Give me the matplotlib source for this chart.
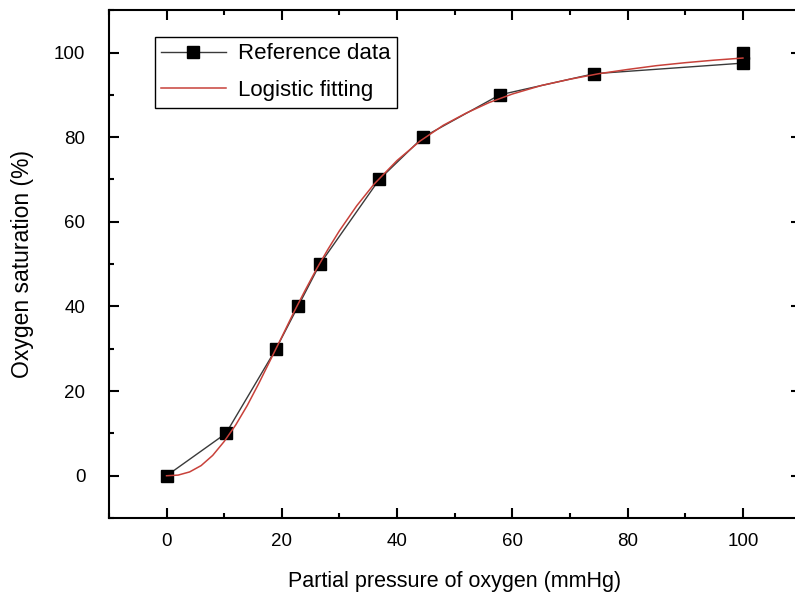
import matplotlib.pyplot as plt
from matplotlib.ticker import MultipleLocator

plt.rcParams['font.family'] = ['Liberation Sans', 'DejaVu Sans']

# reference data
po2 = [0, 10.3, 19.0, 22.8, 26.6, 36.9, 44.5, 57.8, 74.2, 100, 100]
sat = [0, 10, 30, 40, 50, 70, 80, 90, 95, 97.5, 100]

# logistic fitting curve
fit_x = [0, 2, 4, 6, 8, 10, 12, 14, 16, 18, 20, 22, 24, 26, 28, 30, 33, 36,
         40, 44, 48, 52, 56, 60, 65, 70, 75, 80, 85, 90, 95, 100]
fit_y = [0, 0.15, 0.9, 2.4, 4.8, 8.1, 12.0, 16.6, 21.8, 27.3, 32.8, 38.4,
         43.7, 48.8, 53.5, 57.9, 63.8, 68.9, 74.5, 79.1, 82.8, 85.7, 88.2,
         90.2, 92.2, 93.7, 95.0, 96.0, 96.9, 97.6, 98.2, 98.7]

fig = plt.figure(figsize=(7.95, 6.01), dpi=100)
ax = fig.add_axes([0.137, 0.138, 0.870, 0.845])

ax.plot(po2, sat, color='#3a3a3a', linewidth=1.0, marker='s', markersize=8,
        markerfacecolor='black', markeredgecolor='black', label='Reference data', zorder=3)
ax.plot(fit_x, fit_y, color='#c8413a', linewidth=1.1, label='Logistic fitting', zorder=4)

ax.set_xlim(-10, 110)
ax.set_ylim(-10, 110)
ax.xaxis.set_major_locator(MultipleLocator(20))
ax.xaxis.set_minor_locator(MultipleLocator(10))
ax.yaxis.set_major_locator(MultipleLocator(20))
ax.yaxis.set_minor_locator(MultipleLocator(10))
ax.tick_params(which='both', direction='in', top=True, right=True, width=1.5,
               labelsize=13.5)
ax.tick_params(axis='x', which='major', pad=11)
ax.tick_params(axis='y', which='major', pad=17)
ax.tick_params(which='major', length=7)
ax.tick_params(which='minor', length=3.5)
for s in ax.spines.values():
    s.set_linewidth(1.5)

ax.set_xlabel('Partial pressure of oxygen (mmHg)', fontsize=15.5, labelpad=15)
ax.set_ylabel('Oxygen saturation (%)', fontsize=16.5, labelpad=14)

leg = ax.legend(loc='upper left', bbox_to_anchor=(0.066, 0.948), fontsize=16,
                numpoints=1, handlelength=2.9, handletextpad=0.55, labelspacing=0.7,
                borderpad=0.3, borderaxespad=0, fancybox=False, framealpha=1,
                edgecolor='black')
leg.get_frame().set_linewidth(1.0)

plt.savefig('out.png', dpi=100)
